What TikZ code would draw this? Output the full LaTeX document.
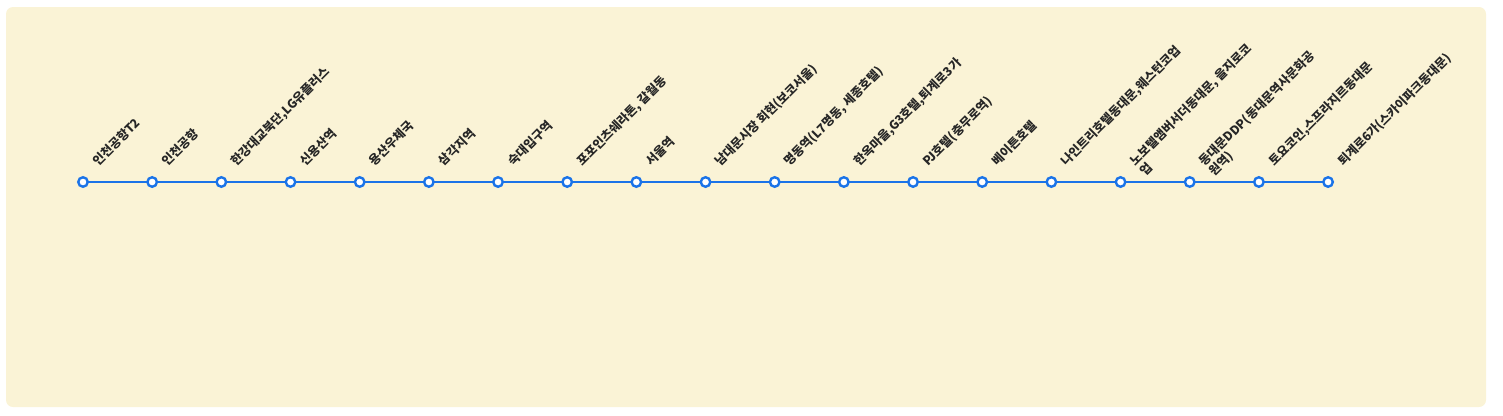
\documentclass[tikz,border=0pt]{standalone}
\usepackage{fontspec}
\newfontfamily\kr{Noto Sans CJK KR}
\definecolor{bgc}{HTML}{FAF3D6}
\definecolor{lineblue}{HTML}{1A73E8}
\definecolor{txt}{HTML}{262626}
\newcommand{\lbltwo}[2]{\begin{tabular}[t]{@{}l@{}}#1\\[-1pt]#2\end{tabular}}
\tikzset{
  stop/.style={circle, draw=lineblue, fill=white, line width=2.4pt, minimum size=9.5pt, inner sep=0pt},
  stoplabel/.style={rotate=45, anchor=base west, inner sep=0pt, text=txt, font=\kr\bfseries\fontsize{12.3}{14.5}\selectfont},
  route/.style={draw=lineblue, line width=2pt}
}
\begin{document}
\begin{tikzpicture}[x=1pt,y=-1pt]
\useasboundingbox (0,0) rectangle (1503,415);
\fill[bgc, rounded corners=7pt] (6,7) rectangle (1486,407);
% stops
\foreach \i in {1,...,19}{
  \coordinate (p\i) at ({83+69.17*(\i-1)},182);
}
\draw[route] (p1) -- (p19);
\foreach \i in {1,...,19}{
  \node[stop] (n\i) at (p\i) {};
}
\path (p1)  ++(15,-15) node[stoplabel] (l1)  {인천공항T2};
\path (p2)  ++(15,-15) node[stoplabel] (l2)  {인천공항};
\path (p3)  ++(15,-15) node[stoplabel] (l3)  {한강대교북단,LG유플러스};
\path (p4)  ++(15,-15) node[stoplabel] (l4)  {신용산역};
\path (p5)  ++(15,-15) node[stoplabel] (l5)  {용산우체국};
\path (p6)  ++(15,-15) node[stoplabel] (l6)  {삼각지역};
\path (p7)  ++(15,-15) node[stoplabel] (l7)  {숙대입구역};
\path (p8)  ++(15,-15) node[stoplabel] (l8)  {포포인츠쉐라톤, 갈월동};
\path (p9)  ++(15,-15) node[stoplabel] (l9)  {서울역};
\path (p10) ++(15,-15) node[stoplabel] (l10) {남대문시장 회현(보코서울)};
\path (p11) ++(15,-15) node[stoplabel] (l11) {명동역(L7명동, 세종호텔)};
\path (p12) ++(15,-15) node[stoplabel] (l12) {한옥마을,G3호텔,퇴계로3가};
\path (p13) ++(15,-15) node[stoplabel] (l13) {PJ호텔(충무로역)};
\path (p14) ++(15,-15) node[stoplabel] (l14) {베이튼호텔};
\path (p15) ++(15,-15) node[stoplabel] (l15) {나인트리호텔동대문,웨스턴코업};
\path (p16) ++(15,-15) node[stoplabel] (l16) {\lbltwo{노보텔앰버서더동대문, 을지로코}{업}};
\path (p17) ++(15,-15) node[stoplabel] (l17) {\lbltwo{동대문DDP(동대문역사문화공}{원역)}};
\path (p18) ++(15,-15) node[stoplabel] (l18) {토요코인,스프라지르동대문};
\path (p19) ++(15,-15) node[stoplabel] (l19) {퇴계로6가(스카이파크동대문)};
\end{tikzpicture}
\end{document}
